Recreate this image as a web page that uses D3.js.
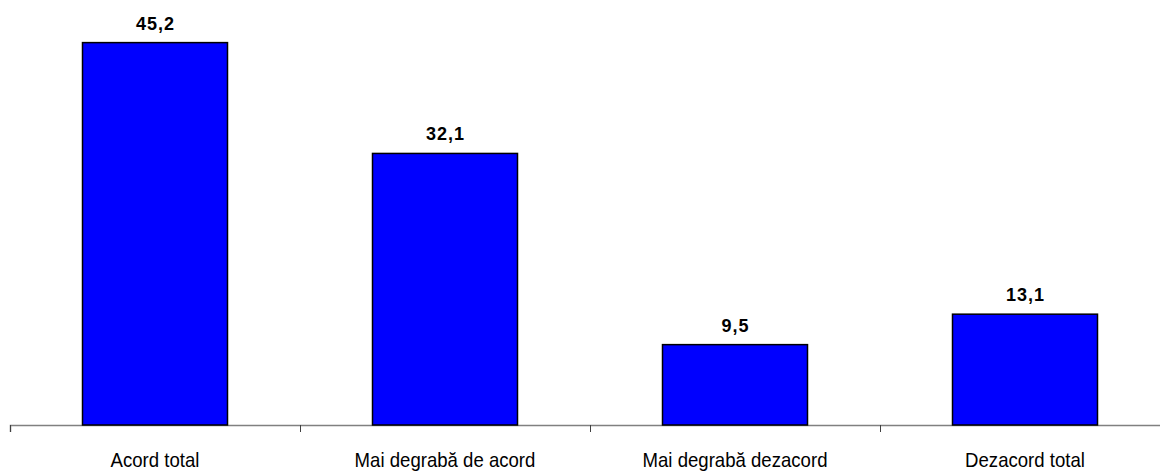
<!DOCTYPE html>
<html>
<head>
<meta charset="utf-8">
<script src="https://cdn.jsdelivr.net/npm/d3@7"></script>
<style>
  body { margin: 0; background: #fff; }
  text { font-family: "Liberation Sans", Arial, sans-serif; }
</style>
</head>
<body>
<script>
var categories = ["Acord total", "Mai degrabă de acord", "Mai degrabă dezacord", "Dezacord total"];
var values = [45.2, 32.1, 9.5, 13.1];

var width = 1160, height = 472;
var format = function(v) { return d3.format(".1f")(v).replace(".", ","); };

var svg = d3.select("body").append("svg")
  .attr("width", width)
  .attr("height", height);

var x = d3.scaleBand()
  .domain(categories)
  .range([10, 1170])
  .paddingInner(0.5)
  .paddingOuter(0.25);

var y = d3.scaleLinear()
  .domain([0, 50])
  .range([425, 2]);

// axis with ticks at band boundaries
var edges = d3.scaleLinear().domain([0, categories.length]).range([10, 1170]);
var axis = svg.append("g")
  .attr("transform", "translate(0," + y(0) + ")")
  .call(d3.axisBottom(edges).tickValues(d3.range(categories.length + 1)).tickFormat("").tickSizeOuter(0).tickSize(7));
axis.select(".domain").attr("stroke", "#808080").attr("stroke-width", 1.5);
axis.selectAll(".tick line").attr("stroke", "#404040");

svg.selectAll(".bar")
  .data(values)
  .enter().append("rect")
  .attr("class", "bar")
  .attr("x", function(d, i) { return x(categories[i]); })
  .attr("y", function(d) { return y(d); })
  .attr("width", x.bandwidth())
  .attr("height", function(d) { return y(0) - y(d); })
  .attr("fill", "#0000ff")
  .attr("stroke", "#000")
  .attr("stroke-width", 1.5);

svg.selectAll(".val")
  .data(values)
  .enter().append("text")
  .attr("class", "val")
  .attr("x", function(d, i) { return x(categories[i]) + x.bandwidth() / 2 + 0.5; })
  .attr("y", function(d) { return y(d) - 13; })
  .attr("text-anchor", "middle")
  .style("font-size", "18px")
  .style("font-weight", "bold")
  .style("letter-spacing", "1px")
  .text(format);

svg.selectAll(".cat")
  .data(categories)
  .enter().append("text")
  .attr("class", "cat")
  .attr("transform", function(d) { return "translate(" + (x(d) + x.bandwidth() / 2) + ",467) scale(0.93,1.03)"; })
  .attr("text-anchor", "middle")
  .style("font-size", "20px")
  .text(function(d) { return d; });
</script>
</body>
</html>
